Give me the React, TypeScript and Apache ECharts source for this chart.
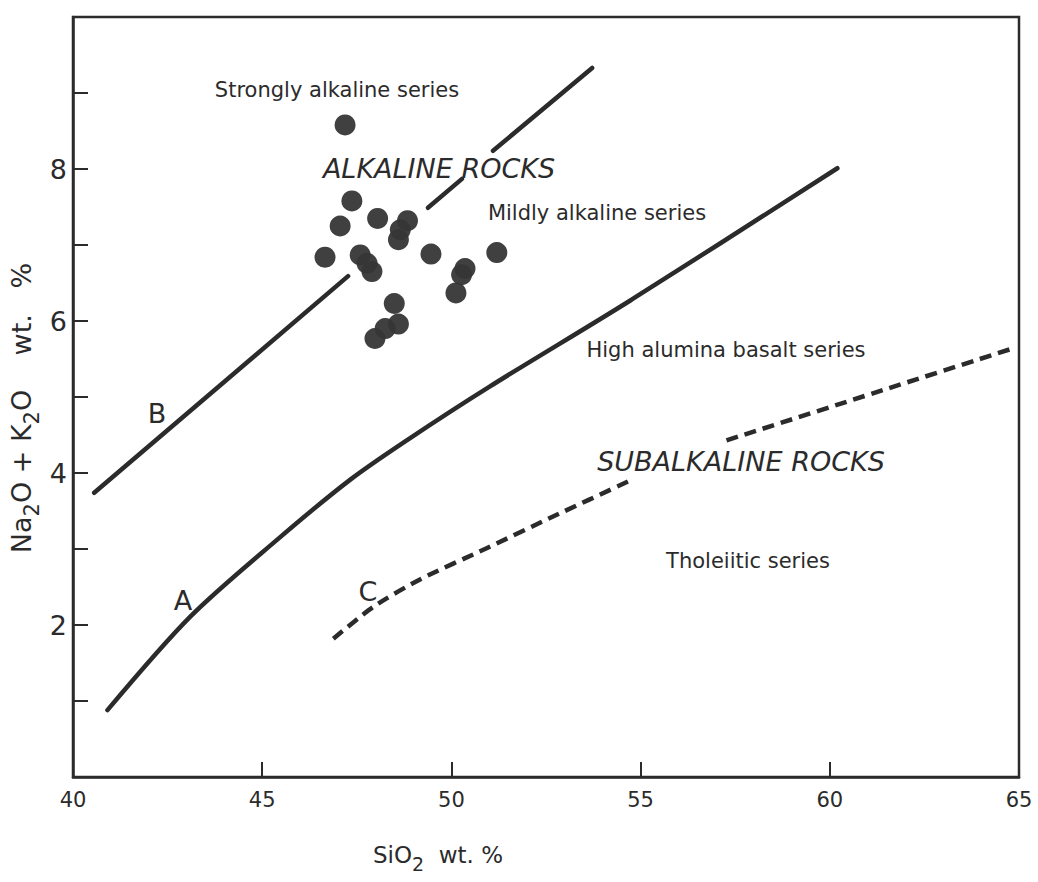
import React, { useEffect, useRef } from "react";
import * as echarts from "echarts";

// Data
const xTicks = [40, 45, 50, 55, 60, 65];
const yLabelled = [2, 4, 6, 8];

// Sample points: [SiO2, Na2O+K2O]
const samples: [number, number][] = [
  [47.19, 8.58],
  [47.37, 7.58],
  [47.06, 7.25],
  [48.05, 7.35],
  [48.84, 7.32],
  [48.65, 7.2],
  [48.6, 7.07],
  [46.66, 6.84],
  [47.59, 6.87],
  [47.77, 6.76],
  [47.9, 6.65],
  [49.46, 6.88],
  [51.2, 6.9],
  [50.36, 6.69],
  [50.27, 6.61],
  [50.12, 6.37],
  [48.49, 6.23],
  [48.6, 5.96],
  [48.25, 5.9],
  [47.98, 5.77],
];

// Boundary A (solid)
const lineA: [number, number][] = [
  [40.91, 0.88],
  [43.1, 2.11],
  [45.39, 3.12],
  [47.32, 3.91],
  [48.82, 4.43],
  [51.02, 5.14],
  [54.76, 6.28],
  [60.2, 8.01],
];

// Boundary B (solid, broken around labels)
const lineB1: [number, number][] = [
  [40.56, 3.74],
  [47.27, 6.59],
];
const lineB2: [number, number][] = [
  [49.38, 7.49],
  [50.28, 7.87],
];
const lineB3: [number, number][] = [
  [51.1, 8.24],
  [53.72, 9.33],
];

// Boundary C (dashed, broken around label)
const lineC1: [number, number][] = [
  [46.88, 1.82],
  [47.94, 2.24],
  [49.17, 2.6],
  [50.93, 3.01],
  [52.7, 3.43],
  [54.72, 3.9],
];
const lineC2: [number, number][] = [
  [57.27, 4.43],
  [61.4, 5.09],
  [64.84, 5.64],
];

const INK = "#2b2b2b";
const FONT = "DejaVu Sans";

export default function App() {
  const ref = useRef<HTMLDivElement>(null);

  useEffect(() => {
    if (!ref.current) return;
    const chart = echarts.init(ref.current, undefined, { renderer: "svg" });

    const solid = (data: [number, number][], smooth = false) => ({
      type: "line",
      data,
      smooth: smooth ? 0.3 : false,
      showSymbol: false,
      symbol: "none",
      lineStyle: { color: INK, width: 4.5, cap: "round" },
      z: 3,
    });
    const dashed = (data: [number, number][]) => ({
      type: "line",
      data,
      smooth: 0.25,
      showSymbol: false,
      symbol: "none",
      lineStyle: { color: INK, width: 4.5, type: [12, 7], cap: "butt" },
      z: 3,
    });

    const txt = (
      text: string,
      x: number,
      y: number,
      size: number,
      italic = false
    ) => ({
      type: "text",
      x,
      y,
      style: {
        text,
        fill: INK,
        font: `${italic ? "italic " : ""}${size}px "${FONT}"`,
        textAlign: "center",
        textVerticalAlign: "middle",
      },
      z: 10,
    });

    chart.setOption({
      animation: false,
      backgroundColor: "#ffffff",
      grid: {
        left: 73,
        right: 19,
        top: 17,
        bottom: 105,
        containLabel: false,
        outerBoundsMode: "none",
        show: true,
        borderColor: INK,
        borderWidth: 2.5,
        backgroundColor: "transparent",
      },
      xAxis: {
        type: "value",
        min: 40,
        max: 65,
        interval: 5,
        axisLine: { show: true, lineStyle: { color: INK, width: 2.5 } },
        axisTick: {
          show: true,
          inside: true,
          length: 15,
          lineStyle: { color: INK, width: 2 },
        },
        axisLabel: {
          color: INK,
          fontFamily: FONT,
          fontSize: 21,
          margin: 12,
          formatter: (v: number) => (xTicks.includes(v) ? String(v) : ""),
        },
        splitLine: { show: false },
      },
      yAxis: {
        type: "value",
        min: 0,
        max: 10,
        interval: 1,
        axisLine: { show: true, lineStyle: { color: INK, width: 2.5 } },
        axisTick: {
          show: true,
          inside: true,
          length: 15,
          lineStyle: { color: INK, width: 2 },
        },
        axisLabel: {
          color: INK,
          fontFamily: FONT,
          fontSize: 27,
          margin: 6,
          formatter: (v: number) => (yLabelled.includes(v) ? String(v) : ""),
        },
        splitLine: { show: false },
      },
      series: [
        {
          type: "scatter",
          data: samples,
          symbol: "circle",
          symbolSize: 21,
          itemStyle: { color: "#363636", opacity: 0.95 },
          z: 5,
        },
        solid(lineA, true),
        solid(lineB1),
        solid(lineB2),
        solid(lineB3),
        dashed(lineC1),
        dashed(lineC2),
      ],
      graphic: [
        txt("Strongly alkaline series", 337, 90, 21),
        txt("ALKALINE ROCKS", 439, 168, 27, true),
        txt("Mildly alkaline series", 597, 213, 21),
        txt("High alumina basalt series", 726, 350, 21),
        txt("SUBALKALINE ROCKS", 741, 461, 27, true),
        txt("Tholeiitic series", 748, 561, 21),
        txt("B", 157, 413, 27),
        txt("A", 183, 600, 27),
        txt("C", 368, 591, 27),
        {
          type: "text",
          x: 25,
          y: 408,
          rotation: Math.PI / 2,
          style: {
            text: "{a|Na}{s|2}{a|O + K}{s|2}{a|O    wt.   %}",
            fill: INK,
            textAlign: "center",
            textVerticalAlign: "middle",
            rich: {
              a: { fontSize: 27, fontFamily: FONT, fill: INK, lineHeight: 34, verticalAlign: "top" },
              s: { fontSize: 21, fontFamily: FONT, fill: INK, lineHeight: 34, verticalAlign: "bottom", padding: [12, 0, 0, 0] },
            },
          },
          z: 10,
        },
        {
          type: "text",
          x: 438,
          y: 858,
          style: {
            text: "{a|SiO}{s|2}{a|  wt. %}",
            fill: INK,
            textAlign: "center",
            textVerticalAlign: "middle",
            rich: {
              a: { fontSize: 23, fontFamily: FONT, fill: INK, lineHeight: 30, verticalAlign: "top" },
              s: { fontSize: 19, fontFamily: FONT, fill: INK, lineHeight: 30, verticalAlign: "bottom", padding: [10, 0, 0, 0] },
            },
          },
          z: 10,
        },
      ],
    });

    return () => chart.dispose();
  }, []);

  return (
    <div
      ref={ref}
      style={{
        position: "fixed",
        left: 0,
        top: 0,
        width: 1038,
        height: 882,
        background: "#ffffff",
      }}
    />
  );
}
